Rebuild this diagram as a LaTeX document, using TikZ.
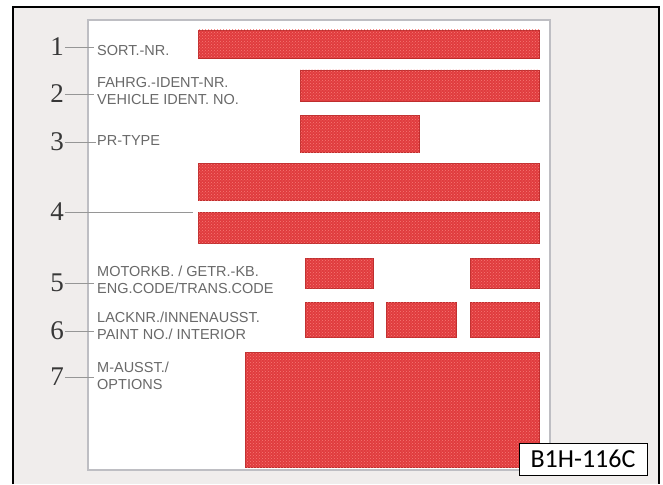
\documentclass[tikz,border=0pt]{standalone}
\usepackage{fontspec}
\setmainfont{Liberation Serif}
\setsansfont{Liberation Sans}
\newfontfamily\codefont{Carlito}
\usetikzlibrary{patterns}
\definecolor{bgpanel}{RGB}{240,237,236}
\definecolor{stickeredge}{RGB}{190,190,195}
\definecolor{barred}{RGB}{224,60,62}
\definecolor{bardark}{RGB}{190,45,45}
\definecolor{barlight}{RGB}{246,120,118}
\definecolor{labelgrey}{RGB}{105,105,105}
\definecolor{numgrey}{RGB}{55,55,55}

\begin{document}
\begin{tikzpicture}[x=1pt, y=-1pt,
  bar/.style={rectangle, fill=barred, draw=bardark, line width=0.8pt, inner sep=0pt,
              postaction={pattern=crosshatch dots, pattern color=barlight}},
  num/.style={font=\fontsize{27}{27}\selectfont, text=numgrey, inner sep=1pt},
  lbl/.style={anchor=west, align=left, text=labelgrey, inner sep=0pt,
              font=\sffamily\fontsize{14.5}{17}\selectfont},
  tick/.style={draw=labelgrey!70, line width=0.8pt},
]
  \useasboundingbox (0,0) rectangle (663,484);
  \fill[bgpanel] (13,7) rectangle (659,484);
  \draw[line width=1.3pt] (13,484) -- (13,7) -- (659,7) -- (659,484);
  \draw[fill=white, draw=stickeredge, line width=1.5pt] (88,20) rectangle (550,470);

  \node[bar, minimum width=341pt, minimum height=28pt] (bar1) at (368.5,44) {};
  \node[bar, minimum width=239pt, minimum height=31pt] (bar2) at (419.5,85.5) {};
  \node[bar, minimum width=119pt, minimum height=37pt] (bar3) at (359.5,133.5) {};
  \node[bar, minimum width=341pt, minimum height=37pt] (bar4a) at (368.5,181.5) {};
  \node[bar, minimum width=341pt, minimum height=31pt] (bar4b) at (368.5,227.5) {};
  \node[bar, minimum width=68pt, minimum height=30pt] (bar5a) at (339,273) {};
  \node[bar, minimum width=69pt, minimum height=30pt] (bar5b) at (504.5,273) {};
  \node[bar, minimum width=68pt, minimum height=35pt] (bar6a) at (339,319.5) {};
  \node[bar, minimum width=70pt, minimum height=35pt] (bar6b) at (421,319.5) {};
  \node[bar, minimum width=69pt, minimum height=35pt] (bar6c) at (504.5,319.5) {};
  \node[bar, minimum width=294pt, minimum height=115pt] (bar7) at (392,409.5) {};

  \node[num] (n1) at (57,47) {1};
  \node[num] (n2) at (57,94) {2};
  \node[num] (n3) at (57,142) {3};
  \node[num] (n4) at (57,212) {4};
  \node[num] (n5) at (57,283) {5};
  \node[num] (n6) at (57,331) {6};
  \node[num] (n7) at (57,377) {7};

  \node[lbl] (l1) at (97,51) {SORT.-NR.};
  \node[lbl] (l2) at (97,91) {FAHRG.-IDENT-NR.\\VEHICLE IDENT. NO.};
  \node[lbl] (l3) at (97,141) {PR-TYPE};
  \node[lbl] (l5) at (97,280) {MOTORKB. / GETR.-KB.\\ENG.CODE/TRANS.CODE};
  \node[lbl] (l6) at (97,326) {LACKNR./INNENAUSST.\\PAINT NO./ INTERIOR};
  \node[lbl] (l7) at (97,376) {M-AUSST./\\OPTIONS};

  \coordinate (e1) at (94,47);
  \coordinate (e2) at (94,94);
  \coordinate (e3) at (96,142);
  \coordinate (e4) at (193,212);
  \coordinate (e5) at (94,283);
  \coordinate (e6) at (94,331);
  \coordinate (e7) at (94,377);
  \foreach \i in {1,2,3,4,5,6,7}
    \draw[tick] (n\i.east) -- (e\i);

  \node[draw, line width=1pt, fill=white, minimum width=128pt, minimum height=32pt,
        inner sep=0pt, font=\codefont\fontsize{26}{26}\selectfont] (code) at (583,459) {B1H-116C};
\end{tikzpicture}
\end{document}
